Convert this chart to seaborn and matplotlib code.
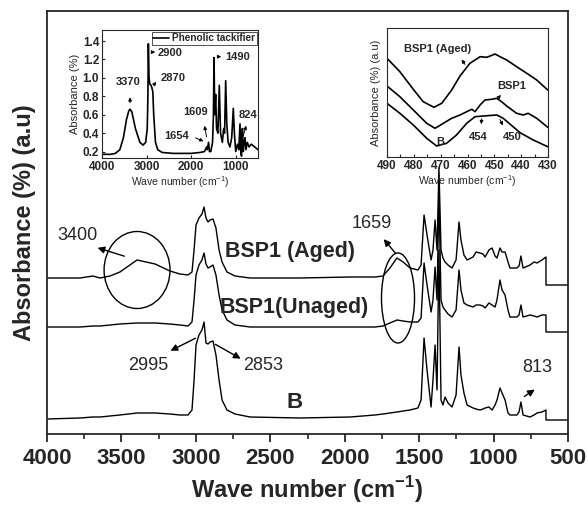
import numpy as np
import pandas as pd
import matplotlib
matplotlib.use("Agg")
import matplotlib.pyplot as plt
import seaborn as sns
from matplotlib.patches import Ellipse

# ---------------- data ----------------
# main spectra (wave number, cm-1) - common grid
wn_main = [4000, 3778, 3691, 3644, 3577, 3510, 3395, 3274, 3174, 3107, 3053, 3026, 3012, 2999,
           2979, 2959, 2945, 2932, 2918, 2905, 2885, 2865, 2844, 2824, 2791, 2737, 2636, 2300,
           1964, 1797, 1743, 1696, 1649, 1608, 1561, 1508, 1487, 1467, 1447, 1420, 1407, 1393,
           1380, 1367, 1353, 1340, 1326, 1306, 1279, 1252, 1232, 1219, 1199, 1178, 1138, 1118,
           1091, 1071, 1057, 1031, 1010, 990, 977, 957, 943, 923, 903, 890, 843, 829, 816, 802,
           755, 728, 708, 675, 648, 648, 500]
bsp1_aged = [156, 156, 158, 156, 158, 162, 174, 170, 163, 160, 159, 162, 184, 209,
             216, 220, 227, 216, 212, 214, 215, 206, 184, 172, 162, 158, 156, 156,
             157, 157, 158, 166, 176, 172, 166, 164, 169, 219, 199, 174, 184, 214,
             184, 266, 184, 176, 172, 169, 166, 174, 212, 194, 179, 174, 177, 182,
             181, 180, 177, 184, 186, 178, 176, 186, 182, 182, 172, 166, 166, 168, 178, 166,
             169, 172, 171, 174, 177, 149, 149]
bsp1_unaged = [107, 107, 108, 108, 109, 110, 111, 111, 110, 109, 108, 112, 134, 159,
               169, 174, 181, 170, 166, 167, 169, 159, 139, 124, 114, 109, 107, 107,
               107, 107, 108, 111, 114, 113, 112, 112, 116, 171, 149, 122, 134, 167,
               134, 240, 134, 127, 124, 120, 117, 124, 164, 144, 131, 129, 127, 129,
               129, 128, 126, 131, 129, 127, 134, 154, 144, 139, 124, 117, 117, 119, 129, 117,
               119, 118, 117, 119, 119, 102, 102]
b_binder = [15, 16, 17, 17, 18, 19, 21, 21, 20, 19, 19, 24, 54, 89,
            99, 104, 112, 91, 90, 92, 93, 79, 54, 34, 24, 20, 17, 16,
            17, 19, 20, 21, 22, 23, 24, 26, 34, 96, 64, 27, 54, 89,
            44, 184, 34, 29, 37, 31, 27, 39, 87, 59, 41, 29, 26, 25,
            24, 25, 26, 27, 24, 29, 34, 46, 41, 34, 21, 19, 19, 22, 32, 19,
            17, 19, 21, 22, 24, 14, 14]

# inset 1: phenolic tackifier
wn_phen = [4000, 3800, 3700, 3600, 3520, 3450, 3400, 3370, 3330, 3250, 3150, 3080, 3020, 2985,
           2970, 2960, 2945, 2925, 2900, 2885, 2860, 2840, 2800, 2750, 2650, 2400, 2000, 1800,
           1700, 1654, 1640, 1609, 1590, 1560, 1520, 1500, 1487, 1470, 1450, 1430, 1400, 1368,
           1340, 1300, 1270, 1250, 1225, 1200, 1170, 1130, 1090, 1054, 1030, 1000, 960, 930,
           904, 885, 870, 850, 830, 810, 792, 770, 740, 700, 650, 600, 550, 500]
phen_abs = [0.17, 0.17, 0.18, 0.22, 0.35, 0.55, 0.64, 0.66, 0.63, 0.45, 0.30, 0.27, 0.30, 0.45,
            0.80, 1.37, 1.00, 0.93, 0.92, 0.90, 0.85, 0.60, 0.30, 0.22, 0.19, 0.18, 0.18, 0.19,
            0.20, 0.25, 0.22, 0.30, 0.20, 0.20, 0.30, 0.60, 1.22, 0.60, 0.82, 0.45, 0.40, 0.92,
            0.40, 0.30, 0.45, 0.40, 0.97, 0.50, 0.30, 0.25, 0.35, 0.67, 0.40, 0.20, 0.28, 0.22,
            0.50, 0.20, 0.15, 0.45, 0.20, 0.30, 0.35, 0.22, 0.30, 0.25, 0.28, 0.26, 0.24, 0.22]

# inset 2: zoom 490-430 cm-1
wn_z_aged = [490, 485.2, 480.2, 476.5, 472.5, 469.6, 465.9, 462.8, 459.1, 455.3, 452.8, 449.7,
             447.9, 445.4, 441.7, 437.9, 434.2, 430.1]
z_aged = [98.7, 85.3, 67.7, 55.3, 49.7, 53.7, 67.0, 81.0, 93.7, 100.3, 99.7, 103.0,
          100.3, 97.0, 90.3, 83.7, 77.0, 67.0]
wn_z_bsp1 = [490, 485.2, 480.2, 475.2, 472.1, 469, 465.9, 462.8, 460.3, 458.4, 457.2, 455.3,
             453.5, 451, 449.1, 447.3, 445.4, 441.7, 439.2, 437.4, 434.2, 430.1]
z_bsp1 = [71.0, 60.3, 47.0, 33.7, 28.7, 33.7, 38.7, 42.0, 45.3, 47.7, 45.3, 52.0,
          57.0, 57.7, 58.7, 55.3, 51.0, 43.7, 42.0, 43.7, 38.7, 29.7]
wn_z_b = [490, 485.2, 480.2, 475.2, 471.5, 467.8, 464.1, 460.3, 457.2, 454.1, 449.1, 446.7,
          444.2, 440.4, 435.5, 430.1]
z_b = [53.7, 43.7, 32.0, 18.7, 11.0, 13.7, 22.0, 33.7, 40.3, 41.0, 42.0, 38.7,
       33.0, 24.3, 17.0, 10.3]

main_xticks = [4000, 3500, 3000, 2500, 2000, 1500, 1000, 500]
phen_xticks = [4000, 3000, 2000, 1000]
phen_yticks = [0.2, 0.4, 0.6, 0.8, 1.0, 1.2, 1.4]
zoom_xticks = [490, 480, 470, 460, 450, 440, 430]

# ---------------- style ----------------
sns.set_theme(style="ticks")
plt.rcParams['font.family'] = ['Liberation Sans', 'DejaVu Sans']
plt.rcParams['mathtext.fontset'] = 'custom'
plt.rcParams['mathtext.rm'] = 'Liberation Sans'
plt.rcParams['mathtext.bf'] = 'Liberation Sans:bold'
plt.rcParams['axes.linewidth'] = 1.3

fig = plt.figure(figsize=(5.88, 5.05), dpi=100)

# ---------------- main axes ----------------
ax = fig.add_axes([47/588, 1-434/505, 521/588, 423/505])
for y in (bsp1_aged, bsp1_unaged, b_binder):
    sns.lineplot(x=wn_main, y=y, ax=ax, color='black', lw=1.0, sort=False, estimator=None)
ax.set_xlim(4000, 500)
ax.set_ylim(0, 423)
ax.set_yticks([])
ax.set_xticks(main_xticks)
ax.set_xticklabels([str(t) for t in main_xticks], fontsize=16, fontweight='bold')
ax.set_xticks(np.arange(750, 4000, 500), minor=True)
ax.tick_params(axis='x', which='major', direction='out', length=6, width=1.3, pad=4)
ax.tick_params(axis='x', which='minor', direction='out', length=3.5, width=1.2)
ax.set_xlabel(r"Wave number (cm$^{\mathbf{-1}}$)", fontsize=17, fontweight='bold', labelpad=4)
ax.set_ylabel("Absorbance (%) (a.u)", fontsize=17, fontweight='bold', labelpad=8)

akw = dict(arrowstyle='-|>', color='black', lw=1.0, mutation_scale=10)
ax.text(2368, 182, "BSP1 (Aged)", fontsize=15.5, fontweight='bold', ha='center', va='center')
ax.text(2341, 127, "BSP1(Unaged)", fontsize=15.5, fontweight='bold', ha='center', va='center')
ax.text(2334, 31, "B", fontsize=16, fontweight='bold', ha='center', va='center')
ax.text(3798, 198, "3400", fontsize=13, ha='center', va='center')
ax.text(1817, 210, "1659", fontsize=13, ha='center', va='center')
ax.text(3321, 69, "2995", fontsize=13, ha='center', va='center')
ax.text(2549, 69, "2853", fontsize=13, ha='center', va='center')
ax.text(708, 67, "813", fontsize=13, ha='center', va='center')
ax.annotate("", xy=(3678, 187), xytext=(3463, 177), arrowprops=akw)
ax.annotate("", xy=(1750, 197), xytext=(1649, 179), arrowprops=akw)
ax.annotate("", xy=(3187, 82), xytext=(2986, 97), arrowprops=akw)
ax.annotate("", xy=(2683, 74), xytext=(2885, 91), arrowprops=akw)
ax.annotate("", xy=(708, 46), xytext=(809, 36), arrowprops=akw)
ax.add_patch(Ellipse((3395, 164), width=443, height=77, fill=False, ec='black', lw=1.0))
ax.add_patch(Ellipse((1642, 136), width=222, height=90, fill=False, ec='black', lw=1.0))

# ---------------- inset 1 ----------------
ax1 = fig.add_axes([102/588, 1-158/505, 156/588, 128/505])
sns.lineplot(x=wn_phen, y=phen_abs, ax=ax1, color='black', lw=1.2, sort=False,
             estimator=None, label="Phenolic tackifier")
ax1.set_xlim(4000, 500)
ax1.set_ylim(0.13, 1.52)
ax1.set_xticks(phen_xticks)
ax1.set_xticklabels([str(t) for t in phen_xticks], fontsize=8.5, fontweight='bold')
ax1.set_yticks(phen_yticks)
ax1.set_yticklabels([f"{t:.1f}" for t in phen_yticks], fontsize=8.5, fontweight='bold')
ax1.tick_params(direction='in', length=2, width=0.8, pad=2)
for s in ax1.spines.values():
    s.set_linewidth(0.8)
ax1.set_xlabel(r"Wave number (cm$^{-1}$)", fontsize=7.5, labelpad=1)
ax1.set_ylabel("Absorbance (%)", fontsize=8, labelpad=2)
leg = ax1.legend(loc='upper right', fontsize=7.2, frameon=True, fancybox=False,
                 edgecolor='black', borderpad=0.15, handlelength=1.6, handletextpad=0.3,
                 borderaxespad=0.15)
leg.get_frame().set_linewidth(0.6)
for t in leg.get_texts():
    t.set_fontweight('bold')
ikw = dict(arrowstyle='-|>', color='black', lw=0.7, mutation_scale=5)
itx = dict(fontsize=8, fontweight='bold', ha='center', va='center')
ax1.text(3417, 0.96, "3370", **itx)
ax1.text(2474, 1.27, "2900", **itx)
ax1.text(2407, 1.00, "2870", **itx)
ax1.text(1891, 0.63, "1609", **itx)
ax1.text(2317, 0.37, "1654", **itx)
ax1.text(948, 1.23, "1490", **itx)
ax1.text(724, 0.60, "824", **itx)
ax1.annotate("", xy=(3370, 0.82), xytext=(3370, 0.70), arrowprops=ikw)
ax1.annotate("", xy=(2743, 1.28), xytext=(2923, 1.28), arrowprops=ikw)
ax1.annotate("", xy=(2743, 0.98), xytext=(2878, 0.90), arrowprops=ikw)
ax1.annotate("", xy=(1711, 0.51), xytext=(1644, 0.33), arrowprops=ikw)
ax1.annotate("", xy=(1666, 0.30), xytext=(1958, 0.36), arrowprops=ikw)
ax1.annotate("", xy=(1262, 1.23), xytext=(1442, 1.23), arrowprops=ikw)
ax1.annotate("", xy=(746, 0.51), xytext=(858, 0.33), arrowprops=ikw)

# ---------------- inset 2 ----------------
ax2 = fig.add_axes([387/588, 1-157/505, 161/588, 129/505])
sns.lineplot(x=wn_z_aged, y=z_aged, ax=ax2, color='black', lw=1.2, sort=False, estimator=None)
sns.lineplot(x=wn_z_bsp1, y=z_bsp1, ax=ax2, color='black', lw=1.2, sort=False, estimator=None)
sns.lineplot(x=wn_z_b, y=z_b, ax=ax2, color='black', lw=1.2, sort=False, estimator=None)
ax2.set_xlim(490, 430)
ax2.set_ylim(0, 129)
ax2.set_yticks([])
ax2.set_xticks(zoom_xticks)
ax2.set_xticklabels([str(t) for t in zoom_xticks], fontsize=8.5, fontweight='bold')
ax2.set_xticks(np.arange(435, 490, 10), minor=True)
ax2.tick_params(axis='x', which='both', direction='in', length=2, width=0.8, pad=2)
for s in ax2.spines.values():
    s.set_linewidth(0.8)
ax2.set_xlabel(r"Wave number (cm$^{-1}$)", fontsize=7.5, labelpad=1)
ax2.set_ylabel("Absorbance (%) (a.u)", fontsize=8, labelpad=4)
ax2.text(471, 108, "BSP1 (Aged)", **itx)
ax2.text(443.4, 71, "BSP1", **itx)
ax2.text(470.2, 15, "B", **itx)
ax2.text(456.1, 20, "454", **itx)
ax2.text(443.4, 20, "450", **itx)
ax2.annotate("", xy=(462.8, 99.7), xytext=(460.3, 90.3), arrowprops=ikw)
ax2.annotate("", xy=(446.8, 64), xytext=(449, 58), arrowprops=ikw)
ax2.annotate("", xy=(455, 30), xytext=(454.6, 41), arrowprops=ikw)
ax2.annotate("", xy=(446.4, 29), xytext=(448.3, 40), arrowprops=ikw)

fig.savefig("out.png", dpi=100)
